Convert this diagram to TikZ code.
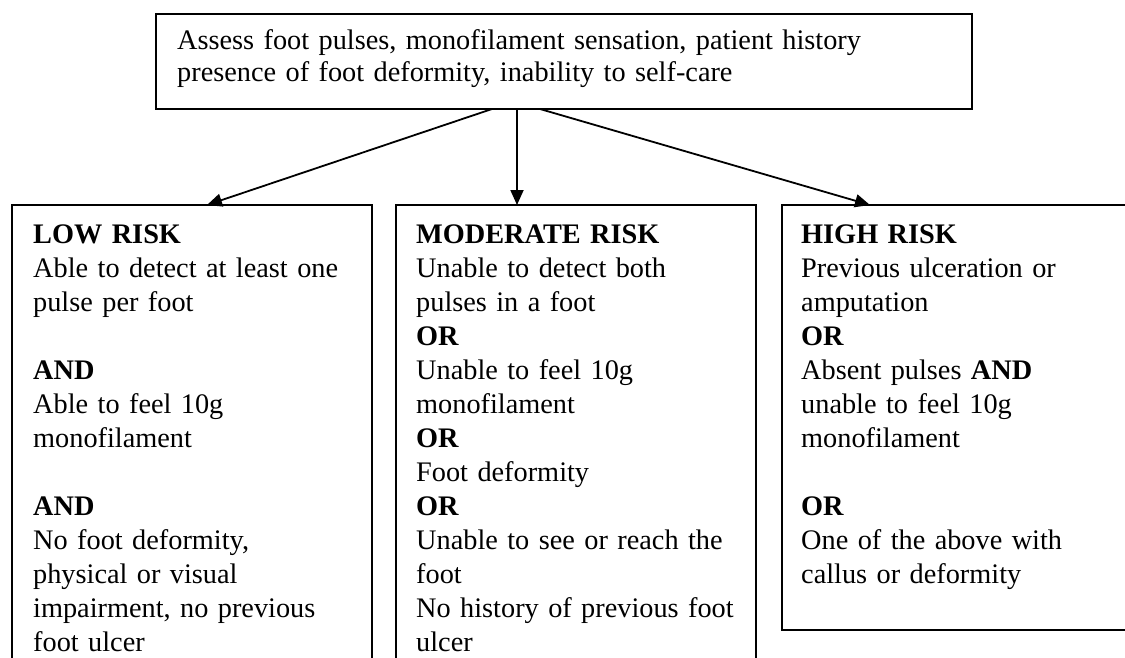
\documentclass[tikz,border=0pt]{standalone}
\usepackage{fontspec}
\setmainfont{Liberation Serif}
\usetikzlibrary{arrows.meta,calc}
\begin{document}
\begin{tikzpicture}[x=1pt,y=-1pt,
  box/.style={draw=black,line width=1.8pt,anchor=north west,inner sep=0pt,outer sep=0pt},
  txt/.style={anchor=base west,inner sep=0pt,align=left,text width=#1,
    font=\fontsize{28.3}{34}\selectfont},
  arr/.style={line width=1.8pt,-{Triangle[length=15pt,width=13pt]}}]
\useasboundingbox (0,0) rectangle (1125,657);
\clip (0,0) rectangle (1125,657);
\node[box,minimum width=816pt,minimum height=95pt] (top) at (156,14) {};
\node[box,minimum width=360pt,minimum height=520pt] (low) at (12,205) {};
\node[box,minimum width=360pt,minimum height=520pt] (mod) at (396,205) {};
\node[box,minimum width=360pt,minimum height=425pt] (high) at (782,205) {};
\node[txt=800pt] (ttop) at (177,49) {Assess foot pulses, monofilament sensation, patient history\\[-2pt]presence of foot deformity, inability to self-care};
\node[txt=340pt] (tlow) at (33,243) {\textbf{LOW RISK}\\Able to detect at least one\\pulse per foot\\[34pt]\textbf{AND}\\Able to feel 10g\\monofilament\\[34pt]\textbf{AND}\\No foot deformity,\\physical or visual\\impairment, no previous\\foot ulcer};
\node[txt=340pt] (tmod) at (416,243) {\textbf{MODERATE RISK}\\Unable to detect both\\pulses in a foot\\\textbf{OR}\\Unable to feel 10g\\monofilament\\\textbf{OR}\\Foot deformity\\\textbf{OR}\\Unable to see or reach the\\foot\\No history of previous foot\\ulcer};
\node[txt=330pt] (thigh) at (801,243) {\textbf{HIGH RISK}\\Previous ulceration or\\amputation\\\textbf{OR}\\Absent pulses \textbf{AND}\\unable to feel 10g\\monofilament\\[34pt]\textbf{OR}\\One of the above with\\callus or deformity};
\draw[arr] ($(top.south west)+(336,0)$) -- ($(low.north west)+(195,0)$);
\draw[arr] ($(top.south west)+(361,0)$) -- ($(mod.north west)+(121,0)$);
\draw[arr] ($(top.south west)+(384,0)$) -- ($(high.north west)+(88,0)$);
\end{tikzpicture}
\end{document}
